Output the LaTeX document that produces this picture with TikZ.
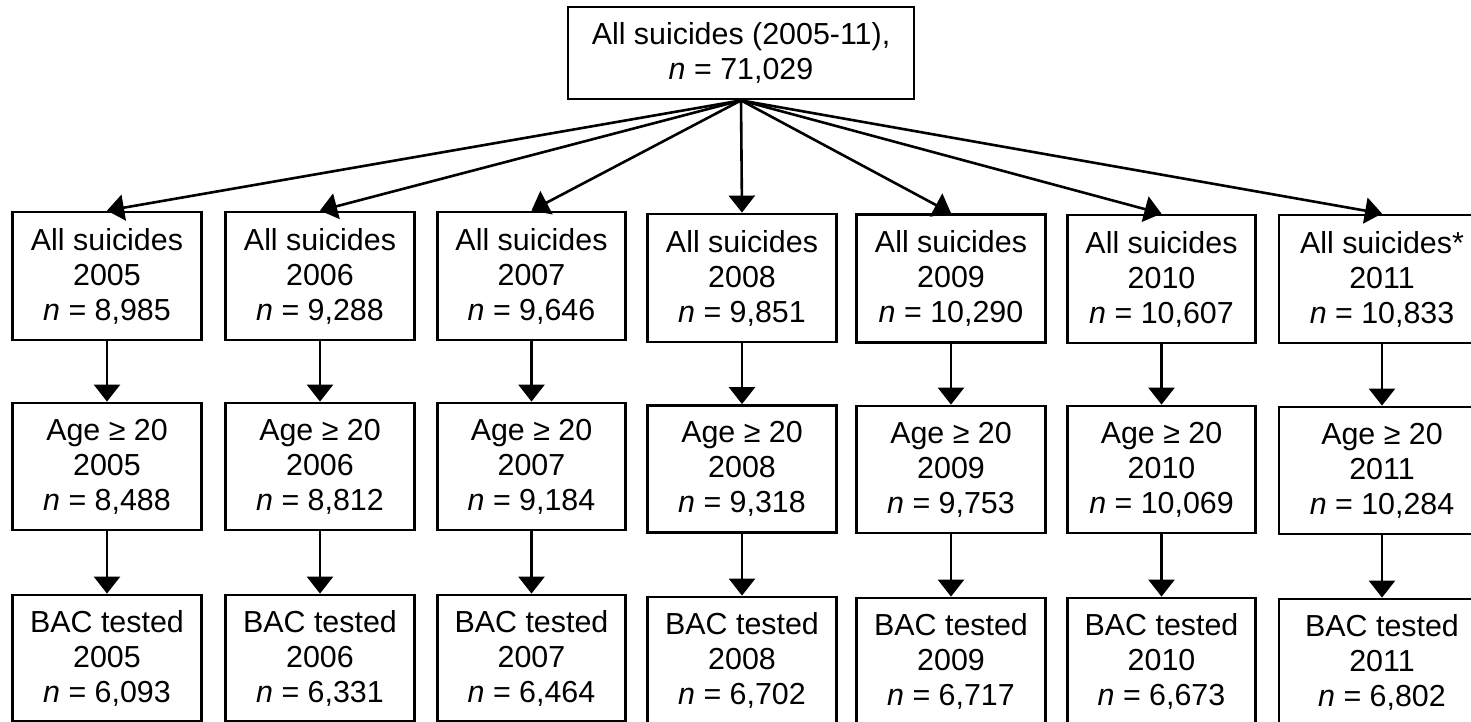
\documentclass[tikz,border=0pt]{standalone}
\usepackage{fontspec}
\setmainfont{Liberation Sans}
\usetikzlibrary{arrows.meta}
\begin{document}
\begin{tikzpicture}[x=0.5pt,y=-0.5pt,
  bx/.style={draw,line width=1.4pt,inner sep=0pt,align=center,
    font=\fontsize{15.2}{17.5}\selectfont,minimum width=94.25pt},
  r1/.style={bx,minimum height=64pt},
  r2/.style={bx,minimum height=63.5pt},
  r3/.style={bx,minimum height=63pt},
  arr/.style={line width=1.3pt,-{Triangle[length=8.5pt,width=13pt]}}]
\useasboundingbox (0,0) rectangle (1471,722);
\node[bx,minimum width=173pt,minimum height=46pt] (top) at (741,53)
  {All suicides (2005-11),\\\textit{n} = 71,029};
% row 1
\node[r1] (a1) at (107,276) {All suicides\\2005\\\textit{n} = 8,985};
\node[r1] (a2) at (320,276) {All suicides\\2006\\\textit{n} = 9,288};
\node[r1] (a3) at (531.5,276) {All suicides\\2007\\\textit{n} = 9,646};
\node[r1] (a4) at (742,278) {All suicides\\2008\\\textit{n} = 9,851};
\node[r1] (a5) at (951,278.5) {All suicides\\2009\\\textit{n} = 10,290};
\node[r1] (a6) at (1161.5,279) {All suicides\\2010\\\textit{n} = 10,607};
\node[r1,minimum width=103pt] (a7) at (1382,279) {All suicides*\\2011\\\textit{n} = 10,833};
% row 2
\node[r2] (b1) at (107,466.5) {Age ≥ 20\\2005\\\textit{n} = 8,488};
\node[r2] (b2) at (320,466.5) {Age ≥ 20\\2006\\\textit{n} = 8,812};
\node[r2] (b3) at (531.5,466.5) {Age ≥ 20\\2007\\\textit{n} = 9,184};
\node[r2] (b4) at (742,469) {Age ≥ 20\\2008\\\textit{n} = 9,318};
\node[r2] (b5) at (951,469.5) {Age ≥ 20\\2009\\\textit{n} = 9,753};
\node[r2] (b6) at (1161.5,469.5) {Age ≥ 20\\2010\\\textit{n} = 10,069};
\node[r2,minimum width=103pt] (b7) at (1382,470.5) {Age ≥ 20\\2011\\\textit{n} = 10,284};
% row 3
\node[r3] (c1) at (107,658) {BAC tested\\2005\\\textit{n} = 6,093};
\node[r3] (c2) at (320,658) {BAC tested\\2006\\\textit{n} = 6,331};
\node[r3] (c3) at (531.5,658) {BAC tested\\2007\\\textit{n} = 6,464};
\node[r3] (c4) at (742,660) {BAC tested\\2008\\\textit{n} = 6,702};
\node[r3] (c5) at (951,661) {BAC tested\\2009\\\textit{n} = 6,717};
\node[r3] (c6) at (1161.5,661) {BAC tested\\2010\\\textit{n} = 6,673};
\node[r3,minimum width=103pt] (c7) at (1382,662) {BAC tested\\2011\\\textit{n} = 6,802};
\foreach \i in {1,...,7}{
  \draw[arr] (top.south) -- (a\i.north);
  \draw[arr] (a\i.south) -- (b\i.north);
  \draw[arr] (b\i.south) -- (c\i.north);
}
\end{tikzpicture}
\end{document}
